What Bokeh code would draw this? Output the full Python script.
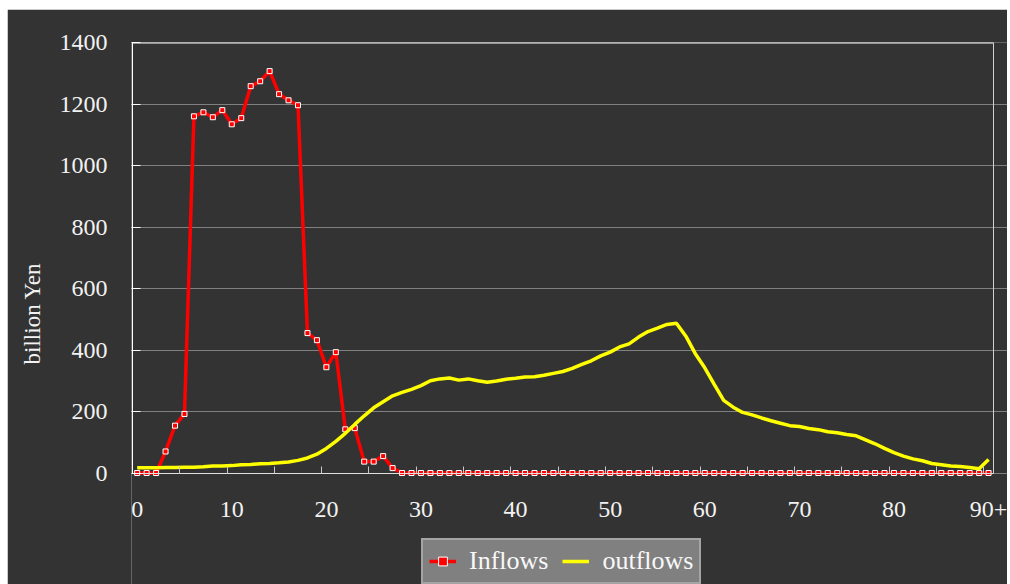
from bokeh.plotting import figure
from bokeh.models import Range1d, FixedTicker, Legend, LegendItem, LinearAxis
from bokeh.embed import file_html
from bokeh.resources import INLINE

# ---- data ----
age = list(range(91))
tick_values = [0, 10, 20, 30, 40, 50, 60, 70, 80, 90]
tick_labels = ["0", "10", "20", "30", "40", "50", "60", "70", "80", "90+"]
y_ticks = [0, 200, 400, 600, 800, 1000, 1200, 1400]

inflows = [0, 0, 0, 70, 154, 192, 1160, 1173, 1157, 1180,
           1134, 1154, 1258, 1274, 1307, 1232, 1212, 1196, 455, 432,
           344, 393, 142, 146, 37, 37, 55, 16, 0, 0,
           0, 0, 0, 0, 0, 0, 0, 0, 0, 0,
           0, 0, 0, 0, 0, 0, 0, 0, 0, 0,
           0, 0, 0, 0, 0, 0, 0, 0, 0, 0,
           0, 0, 0, 0, 0, 0, 0, 0, 0, 0,
           0, 0, 0, 0, 0, 0, 0, 0, 0, 0,
           0, 0, 0, 0, 0, 0, 0, 0, 0, 0,
           0]

outflows = [17, 17, 17, 18, 18, 19, 19, 20, 23, 23,
            24, 27, 28, 30, 31, 33, 36, 41, 49, 61,
            80, 103, 129, 158, 186, 212, 232, 251, 262, 272,
            284, 300, 306, 309, 302, 306, 300, 295, 299, 305,
            308, 312, 313, 318, 324, 330, 340, 353, 365, 381,
            393, 410, 420, 442, 460, 471, 483, 487, 445, 388,
            342, 288, 236, 214, 197, 189, 179, 170, 162, 154,
            151, 145, 141, 134, 131, 125, 121, 108, 95, 80,
            66, 55, 46, 40, 31, 27, 23, 21, 18, 14,
            44]

BG = "#333333"
FONT = "Liberation Serif"
Y_MAX = 1400
X_LO, X_HI = -0.5, 90.5
# the frame extends beyond the plot area to hold labels, borders and the legend
Y_MIN_VIEW = -362.6
X_MIN_VIEW = -0.6
X_MAX_VIEW = 92.0

p = figure(width=1000, height=575, output_backend="svg", toolbar_location=None,
           x_range=Range1d(X_MIN_VIEW, X_MAX_VIEW), y_range=Range1d(Y_MIN_VIEW, Y_MAX),
           min_border_left=124, min_border_right=0, min_border_top=33,
           min_border_bottom=0)
p.margin = (9, 3, 0, 7)
p.background_fill_color = BG
p.border_fill_color = BG
p.outline_line_color = None

# grid
p.xgrid.grid_line_color = None
p.ygrid.grid_line_color = "#808080"
p.ygrid.grid_line_width = 1
p.ygrid.ticker = FixedTicker(ticks=y_ticks)
p.ygrid.bounds = (X_LO, X_HI)

# y axis (labels and inner ticks; its line is drawn by a border axis below)
p.yaxis.ticker = FixedTicker(ticks=y_ticks)
p.yaxis.bounds = (0, Y_MAX)
p.yaxis.axis_line_color = None
p.yaxis.major_tick_line_color = "white"
p.yaxis.major_tick_in = 9
p.yaxis.major_tick_out = 0
p.yaxis.minor_tick_line_color = None
p.yaxis.major_label_standoff = 24
p.yaxis.major_label_text_font = FONT
p.yaxis.major_label_text_font_size = "24px"
p.yaxis.major_label_text_color = "#f2f2f2"
p.yaxis.axis_label = "billion Yen"
p.yaxis.axis_label_text_font = FONT
p.yaxis.axis_label_text_font_size = "23px"
p.yaxis.axis_label_text_font_style = "normal"
p.yaxis.axis_label_text_color = "#f2f2f2"
p.yaxis.axis_label_standoff = 12

# x axis, drawn at y = 0 inside the frame
minor = [4.5 + 5 * k for k in range(18)]
p.xaxis.fixed_location = 0
p.xaxis.bounds = (X_LO, X_HI)
p.xaxis.ticker = FixedTicker(ticks=tick_values, minor_ticks=minor)
p.xaxis.major_label_overrides = {v: l for v, l in zip(tick_values, tick_labels)}
p.xaxis.axis_line_color = "#e0e0e0"
p.xaxis.major_tick_line_color = None
p.xaxis.minor_tick_line_color = "#c8c8c8"
p.xaxis.minor_tick_in = 7
p.xaxis.minor_tick_out = 0
p.xaxis.major_label_standoff = 23
p.xaxis.major_label_text_font = FONT
p.xaxis.major_label_text_font_size = "24px"
p.xaxis.major_label_text_color = "#f2f2f2"

# plot-area borders as bare axis lines
def border(loc, bounds, color, width):
    return LinearAxis(fixed_location=loc, bounds=bounds,
                      ticker=FixedTicker(ticks=[]), axis_line_color=color,
                      axis_line_width=width, major_tick_line_color=None,
                      minor_tick_line_color=None)

p.add_layout(border(Y_MAX, (X_LO, X_HI), "white", 2), "above")
p.add_layout(border(X_HI, (0, Y_MAX), "#d0d0d0", 1), "right")
p.add_layout(border(X_LO, (0, Y_MAX), "white", 1), "left")

# series
r_in = p.line(age, inflows, line_color="#ff0000", line_width=3.5)
r_in_m = p.scatter(age, inflows, marker="square", size=5, fill_color="#ff0000",
                   line_color="white", line_width=1)
r_out = p.line(age, outflows, line_color="#ffff00", line_width=3.5)

legend = Legend(items=[LegendItem(label="Inflows", renderers=[r_in, r_in_m]),
                       LegendItem(label="outflows", renderers=[r_out])],
                location=(290, 0), orientation="horizontal")
legend.label_text_font = FONT
legend.label_text_font_size = "26px"
legend.label_text_color = "#f8f8f8"
legend.background_fill_color = "#808080"
legend.background_fill_alpha = 1
legend.border_line_color = "#c8c8c8"
legend.border_line_width = 2
legend.glyph_width = 27
legend.glyph_height = 22
legend.label_standoff = 13
legend.label_height = 24
legend.spacing = 14
legend.padding = 6
legend.margin = 0
p.add_layout(legend)

open("out.html", "w").write(file_html(p, INLINE))
